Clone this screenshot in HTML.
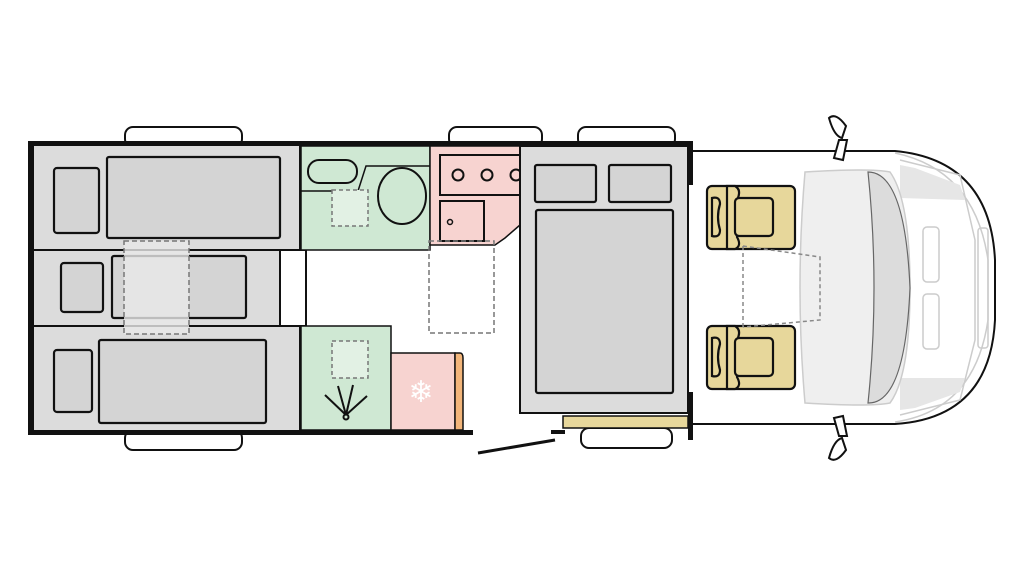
<!DOCTYPE html>
<html><head><meta charset="utf-8"><style>html,body{margin:0;padding:0;background:#fff;width:1024px;height:576px;overflow:hidden}</style></head><body>
<svg width="1024" height="576" viewBox="0 0 1024 576" xmlns="http://www.w3.org/2000/svg">
<g fill="#fff" stroke="#111" stroke-width="2">
<rect x="125" y="127" width="117" height="20" rx="8"/>
<rect x="449" y="127" width="93" height="20" rx="8"/>
<rect x="578" y="127" width="97" height="20" rx="8"/>
<rect x="125" y="430" width="117" height="20" rx="8"/>
<rect x="581" y="428" width="91" height="20" rx="8"/>
</g>
<!-- cab -->
<path d="M693 151 L895 151 Q990 160 995 260 L995 320 Q990 418 895 424 L693 424" fill="#fff" stroke="#111" stroke-width="2"/>
<g fill="none" stroke="#ccc" stroke-width="1.5">
<path d="M895 153 Q975 170 988 260 L988 320 Q975 410 895 422"/>
<path d="M900 160 L960 175 L975 240 L975 340 L960 400 L900 415"/>
<rect x="923" y="227" width="16" height="55" rx="4"/>
<rect x="923" y="294" width="16" height="55" rx="4"/>
<rect x="978" y="228" width="10" height="120" rx="3"/>
</g>
<path d="M900 165 L915 168 L960 185 L965 200 L900 198Z" fill="#e6e6e6"/>
<path d="M900 410 L915 408 L960 392 L965 378 L900 378Z" fill="#e6e6e6"/>
<path d="M805 172 Q870 168 890 172 Q910 200 910 288 Q910 376 890 403 Q870 407 805 403 Q795 288 805 172Z" fill="#efefef" stroke="#ccc" stroke-width="1.5"/>
<path d="M868 172 Q905 172 910 288 Q905 404 868 403 Q880 288 868 172Z" fill="#dcdcdc" stroke="#666" stroke-width="1.2"/>
<!-- mirrors -->
<g fill="#fff" stroke="#111" stroke-width="2">
<path d="M829 118 Q836 112 846 126 L842 138 Q834 136 829 118Z"/>
<path d="M839 140 L847 140 L843 160 L834 158Z"/>
<path d="M829 458 Q836 464 846 450 L842 438 Q834 440 829 458Z"/>
<path d="M839 436 L847 436 L843 416 L834 418Z"/>
</g>
<!-- main walls -->
<rect x="28" y="141" width="662" height="5" fill="#111"/>
<rect x="28" y="141" width="6" height="294" fill="#111"/>
<rect x="28" y="430" width="445" height="5" fill="#111"/>
<!-- left beds area -->
<rect x="34" y="146" width="266" height="284" fill="#dcdcdc"/>
<rect x="280" y="250" width="26" height="76" fill="#fff"/>
<g stroke="#111" stroke-width="2" fill="none">
<line x1="34" y1="250" x2="306" y2="250"/>
<line x1="34" y1="326" x2="306" y2="326"/>
<line x1="280" y1="250" x2="280" y2="326"/>
<line x1="306" y1="250" x2="306" y2="326"/>
<line x1="300" y1="146" x2="300" y2="250"/>
<line x1="300" y1="326" x2="300" y2="430"/>
</g>
<g fill="#d4d4d4" stroke="#111" stroke-width="2.2">
<rect x="54" y="168" width="45" height="65" rx="3"/>
<rect x="107" y="157" width="173" height="81" rx="2"/>
<rect x="61" y="263" width="42" height="49" rx="3"/>
<rect x="112" y="256" width="134" height="62" rx="2"/>
<rect x="54" y="350" width="38" height="62" rx="3"/>
<rect x="99" y="340" width="167" height="83" rx="2"/>
</g>
<rect x="124" y="241" width="65" height="93" fill="#e8e8e8" fill-opacity=".8" stroke="#777" stroke-width="1.5" stroke-dasharray="5,3"/>
<!-- washroom -->
<rect x="301" y="146" width="129" height="104" fill="#cfe8d3" stroke="#111" stroke-width="1.5"/>
<rect x="308" y="160" width="49" height="23" rx="11" fill="#cfe8d3" stroke="#111" stroke-width="2"/>
<path d="M301 191 L358 191 L366 166 L430 166" fill="none" stroke="#111" stroke-width="1.5"/>
<ellipse cx="402" cy="196" rx="24" ry="28" fill="#cfe8d3" stroke="#111" stroke-width="2"/>
<rect x="332" y="190" width="36" height="36" fill="#e2f1e4" stroke="#777" stroke-width="1.5" stroke-dasharray="4,3"/>
<!-- kitchen -->
<path d="M430 146 L520 146 L520 225 L505 238 L495 245 L430 245Z" fill="#f7d3d0" stroke="#111" stroke-width="1.5"/>
<rect x="440" y="155" width="80" height="40" fill="#f7d3d0" stroke="#111" stroke-width="2"/>
<g fill="none" stroke="#111" stroke-width="2"><circle cx="458" cy="175" r="5.5"/><circle cx="487" cy="175" r="5.5"/><circle cx="516" cy="175" r="5.5"/></g>
<rect x="440" y="201" width="44" height="40" fill="#f7d3d0" stroke="#111" stroke-width="2"/>
<circle cx="450" cy="222" r="2.5" fill="none" stroke="#111" stroke-width="1.5"/>
<rect x="429" y="241" width="65" height="92" fill="none" stroke="#777" stroke-width="1.5" stroke-dasharray="5,3"/>
<!-- shower -->
<rect x="301" y="326" width="90" height="104" fill="#cfe8d3" stroke="#111" stroke-width="1.5"/>
<rect x="332" y="341" width="36" height="37" fill="#e2f1e4" stroke="#777" stroke-width="1.5" stroke-dasharray="4,3"/>
<g stroke="#111" stroke-width="2" fill="none">
<line x1="346" y1="415" x2="325" y2="395"/><line x1="346" y1="415" x2="338" y2="386"/>
<line x1="346" y1="415" x2="353" y2="385"/><line x1="346" y1="415" x2="367" y2="396"/>
<circle cx="346" cy="417" r="2.5"/></g>
<!-- fridge -->
<rect x="391" y="353" width="64" height="77" fill="#f7d3d0" stroke="#111" stroke-width="1.5"/>
<path d="M455 353 L460 353 Q463 353 463 358 L463 430 L455 430Z" fill="#f2b57a" stroke="#111" stroke-width="1.5"/>
<text x="421" y="402" font-family="DejaVu Sans, sans-serif" font-size="30" fill="#fff" text-anchor="middle">❄</text>
<!-- bed -->
<rect x="520" y="146" width="168" height="267" fill="#dcdcdc" stroke="#111" stroke-width="2"/>
<g fill="#d4d4d4" stroke="#111" stroke-width="2.2">
<rect x="535" y="165" width="61" height="37" rx="2"/>
<rect x="609" y="165" width="62" height="37" rx="2"/>
<rect x="536" y="210" width="137" height="183" rx="2"/>
</g>
<rect x="688" y="141" width="5" height="44" fill="#111"/>
<rect x="688" y="392" width="5" height="48" fill="#111"/>
<rect x="563" y="416" width="125" height="12" fill="#e7d79b" stroke="#111" stroke-width="1.5"/>
<rect x="551" y="430" width="14" height="4" fill="#111"/>
<line x1="478" y1="453" x2="555" y2="440" stroke="#111" stroke-width="3"/>
<!-- seats -->
<g id="seat" stroke="#111" stroke-width="2.2" fill="#e7d79b">
<rect x="707" y="186" width="88" height="63" rx="5"/>
<path d="M727 186 L735 186 Q742 190 737 200 L737 237 Q742 246 735 249 L727 249 Z"/>
<rect x="735" y="198" width="38" height="38" rx="4"/>
<path d="M712 198 Q720 196 720 204 Q716 217 720 230 Q720 238 712 236 Z"/>
</g>
<use href="#seat" transform="translate(0,140)"/>
<path d="M743 246 L743 327 M743 246 L820 257 L820 320 L743 327" fill="none" stroke="#888" stroke-width="1.5" stroke-dasharray="4,3"/>
</svg>
</body></html>
